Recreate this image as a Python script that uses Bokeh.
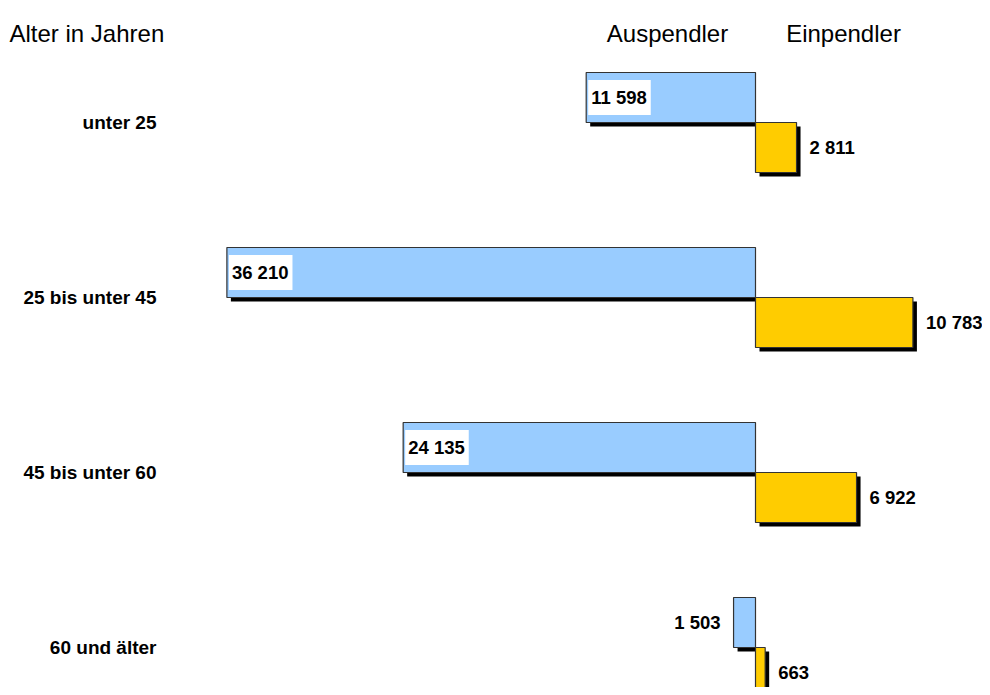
from bokeh.plotting import figure
from bokeh.models import Range1d, ColumnDataSource
from bokeh.core.properties import value
from bokeh.embed import file_html
from bokeh.resources import INLINE

# ---- data ----
groups = ["unter 25", "25 bis unter 45", "45 bis unter 60", "60 und älter"]
auspendler = [11598, 36210, 24135, 1503]
einpendler = [2811, 10783, 6922, 663]
header_left = "Alter in Jahren"
header_aus = "Auspendler"
header_ein = "Einpendler"

# ---- layout constants (pixels) ----
W, H = 982, 687
UPX = 68.5          # data units per pixel horizontally
ZERO_PX = 755       # zero line position in plot pixels
GROUP_PX = 175.0    # vertical pixels per group
BOUND0_PX = 122.0   # first group boundary in plot pixels
BAR_PX = 50.0
SH = 4.0            # shadow offset px
FS = "18.5px"
FS_CAT = "19px"

def fmt(v):
    return f"{v:,}".replace(",", " ")

x_start = -ZERO_PX * UPX
x_end = (W - ZERO_PX) * UPX
y_top = (0 - BOUND0_PX) / GROUP_PX
y_bot = (H - BOUND0_PX) / GROUP_PX

p = figure(width=W, height=H, output_backend="svg", toolbar_location=None,
           x_range=Range1d(x_start, x_end), y_range=Range1d(y_bot, y_top),
           x_axis_location=None, y_axis_location=None, min_border=0)
p.grid.visible = False
p.outline_line_color = None
p.background_fill_color = "white"
p.border_fill_color = "white"

h = BAR_PX / GROUP_PX
dx = SH * UPX
dy = SH / GROUP_PX
idx = list(range(len(groups)))

src = ColumnDataSource(dict(
    i=idx,
    aus_l=[-v for v in auspendler],
    aus_sl=[-v + dx for v in auspendler],
    ein_r=einpendler,
    ein_sr=[v + dx for v in einpendler],
    top_b=[i - h for i in idx],
    bot_b=[i for i in idx],
    top_bs=[i - h + dy for i in idx],
    bot_bs=[i + dy for i in idx],
    top_y=[i for i in idx],
    bot_y=[i + h for i in idx],
    top_ys=[i + dy for i in idx],
    bot_ys=[i + h + dy for i in idx],
    cy_b=[i - h / 2 for i in idx],
    cy_y=[i + h / 2 for i in idx],
    aus_txt=[fmt(v) for v in auspendler],
    ein_txt=[fmt(v) for v in einpendler],
    grp=groups,
))

# shadows
p.quad(left="aus_sl", right=0, top="top_bs", bottom="bot_bs", source=src,
       fill_color="black", line_color=None)
p.quad(left=dx, right="ein_sr", top="top_ys", bottom="bot_ys", source=src,
       fill_color="black", line_color=None)
# bars
p.quad(left="aus_l", right=0, top="top_b", bottom="bot_b", source=src,
       fill_color="#99CCFF", line_color="#333333", line_width=1.2)
p.quad(left=0, right="ein_r", top="top_y", bottom="bot_y", source=src,
       fill_color="#FFCC00", line_color="#333333", line_width=1.2)

font = value("Liberation Sans")

# Auspendler labels: inside (with white box) when bar is wide, else outside left
inside = [i for i in idx if auspendler[i] / UPX > 80]
outside = [i for i in idx if i not in inside]
src_in = ColumnDataSource(dict(x=[-auspendler[i] for i in inside],
                               y=[i - h / 2 for i in inside],
                               t=[fmt(auspendler[i]) for i in inside]))
src_out = ColumnDataSource(dict(x=[-auspendler[i] for i in outside],
                                y=[i - h / 2 for i in outside],
                                t=[fmt(auspendler[i]) for i in outside]))
p.text(x="x", y="y", text="t", source=src_in, x_offset=2,
       text_font=font, text_font_style="bold", text_font_size=FS,
       text_color="black", text_align="left", text_baseline="middle",
       background_fill_color="white",
       padding=dict(left=3, right=4, top=7, bottom=7))
p.text(x="x", y="y", text="t", source=src_out, x_offset=-13,
       text_font=font, text_font_style="bold", text_font_size=FS,
       text_color="black", text_align="right", text_baseline="middle")

# Einpendler labels
p.text(x="ein_r", y="cy_y", text="ein_txt", source=src, x_offset=13,
       text_font=font, text_font_style="bold", text_font_size=FS,
       text_color="black", text_align="left", text_baseline="middle")

# category labels
p.text(x=x_start, y="bot_b", text="grp", source=src, x_offset=156,
       text_font=font, text_font_style="bold", text_font_size=FS_CAT,
       text_color="black", text_align="right", text_baseline="middle")

# headers
hy = (33 - BOUND0_PX) / GROUP_PX
p.text(x=[x_start], y=[hy], text=[header_left], x_offset=9,
       text_font=font, text_font_size="24px", text_color="black",
       text_align="left", text_baseline="alphabetic")
p.text(x=[0, 0], y=[hy, hy], text=[header_aus, header_ein], x_offset=[-88, 88],
       text_font=font, text_font_size="24px", text_color="black",
       text_align="center", text_baseline="alphabetic")

open("out.html", "w").write(file_html(p, INLINE))
